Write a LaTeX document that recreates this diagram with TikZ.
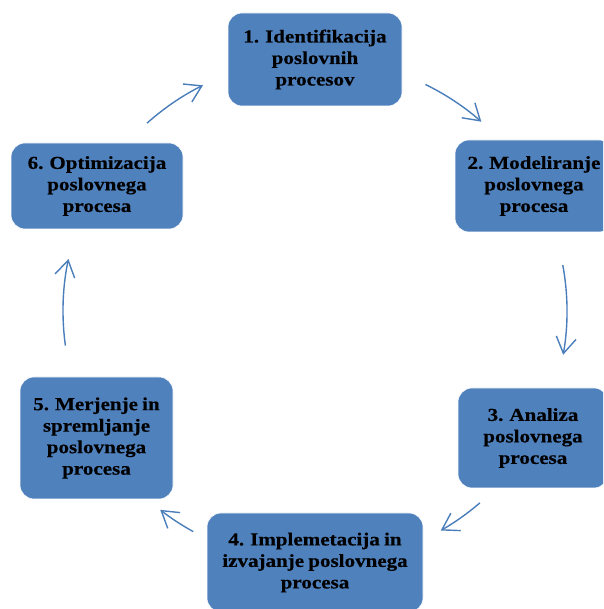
\documentclass[tikz,border=0pt]{standalone}
\usepackage{fontspec}
\setmainfont{Liberation Serif}[FakeStretch=1.15, WordSpace=0.8,
  BoldFeatures={FakeBold=0.4}]
\usetikzlibrary{arrows.meta,calc}
\definecolor{stepblue}{HTML}{4F81BD}
\definecolor{cyclearrow}{HTML}{4A7EBB}
\begin{document}
\begin{tikzpicture}[x=1pt,y=1pt,
  stepbox/.style={fill=stepblue, draw=white, line width=0.6pt, rounded corners=14pt,
    inner sep=0pt, align=center, text=black,
    font=\fontsize{18.3}{21.5}\selectfont\bfseries},
  cyc/.style={draw=cyclearrow, line width=1.4pt,
    -{Straight Barb[length=16pt,width=20pt,line width=1.4pt]}}]
\useasboundingbox (0,0) rectangle (603,609);
\clip (0,0) rectangle (603,609);
% process steps placed around the cycle
\node[stepbox, minimum width=174pt, minimum height=93pt] (s1) at (315,549.5)
  {1. Identifikacija\\poslovnih\\procesov};
\node[stepbox, minimum width=158pt, minimum height=92pt] (s2) at (534,423)
  {2. Modeliranje\\poslovnega\\procesa};
\node[stepbox, minimum width=150pt, minimum height=100pt] (s3) at (533,171)
  {3. Analiza\\poslovnega\\procesa};
\node[stepbox, minimum width=216pt, minimum height=99pt] (s4) at (315,46.5)
  {4. Implemetacija in\\izvajanje poslovnega\\procesa};
\node[stepbox, minimum width=153pt, minimum height=122pt] (s5) at (96.5,171)
  {5. Merjenje in\\spremljanje\\poslovnega\\procesa};
\node[stepbox, minimum width=172pt, minimum height=86pt] (s6) at (97,423)
  {6. Optimizacija\\poslovnega\\procesa};
% arcs of the cycle, all on one circle around (c)
\coordinate (c) at (315,298);
\coordinate (a12) at ($(c)+(64:252)$);
\coordinate (a23) at ($(c)+(10.5:252)$);
\coordinate (a34) at ($(c)+(-49.3:253)$);
\coordinate (a45) at ($(c)+(241.1:252)$);
\coordinate (a56) at ($(c)+(187.9:252)$);
\coordinate (a61) at ($(c)+(131.8:252)$);
\draw[cyc] (a12) arc[start angle=64, end angle=48.7, radius=252];
\draw[cyc] (a23) arc[start angle=10.5, end angle=-10, radius=252];
\draw[cyc] (a34) arc[start angle=-49.3, end angle=-60.2, radius=253];
\draw[cyc] (a45) arc[start angle=241.1, end angle=232.1, radius=252];
\draw[cyc] (a56) arc[start angle=187.9, end angle=168.1, radius=252];
\draw[cyc] (a61) arc[start angle=131.8, end angle=116.4, radius=252];
\end{tikzpicture}
\end{document}
